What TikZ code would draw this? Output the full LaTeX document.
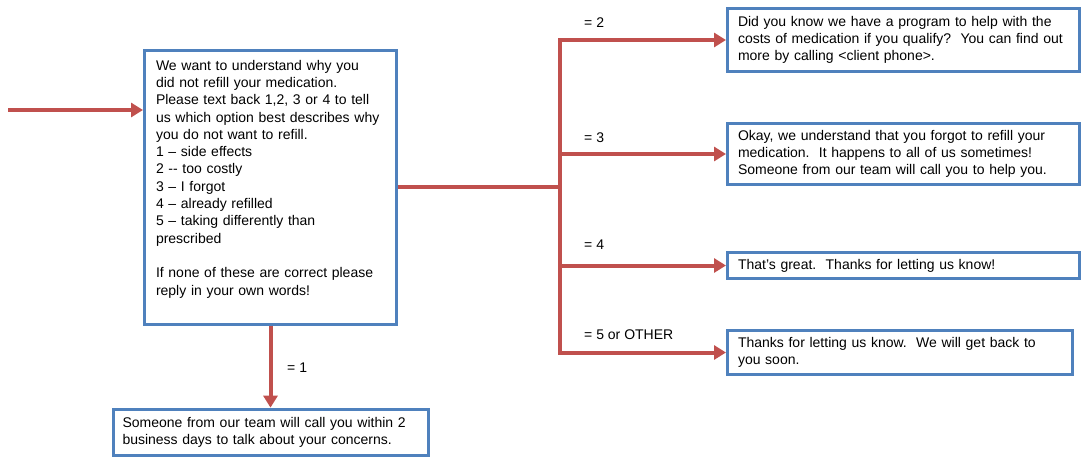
\documentclass[tikz,border=0pt]{standalone}
\usepackage{fontspec}
\setmainfont{Liberation Sans}
\usepackage{tikz}
\usetikzlibrary{arrows.meta, positioning}

\definecolor{boxblue}{HTML}{4F81BD}
\definecolor{flowred}{HTML}{C0504D}

\begin{document}
\begin{tikzpicture}[x=1pt, y=-1pt,
        msg/.style={draw=boxblue, line width=3pt, align=left, inner xsep=10.5pt, inner ysep=4pt,
            font=\fontsize{14}{17.3}\selectfont},
        flow/.style={draw=flowred, line width=4pt, -{Triangle[length=12pt, width=14pt]}},
        link/.style={draw=flowred, line width=4pt},
        choice/.style={anchor=base west, inner sep=0pt, font=\fontsize{14}{17.3}\selectfont}]

    \useasboundingbox (0,0) rectangle (1083,456);

    % the question that is sent
    \node[msg, anchor=north west, text width=229pt, inner xsep=11.5pt, inner ysep=9.5pt] (ask) at (143,49)
        {We want to understand why you\\
         did not refill your medication.\\
         Please text back 1,2, 3 or 4 to tell\\
         us which option best describes why\\
         you do not want to refill.\\
         1 – side effects\\
         2 -\kern0pt- too costly\\
         3 – I forgot\\
         4 – already refilled\\
         5 – taking differently than\\
         prescribed\\[17.3pt]
         If none of these are correct please\\
         reply in your own words!\rule[-19.6pt]{0pt}{19.6pt}};

    \node[msg, below=82pt of ask, text width=296pt, inner xsep=9.5pt, minimum height=46pt] (sideeff)
        {Someone from our team will call you within 2\\
         business days to talk about your concerns.};

    % answers on the right
    \node[msg, anchor=west, text width=331pt, minimum height=63pt] (costly) at (726,40)
        {Did you know we have a program to help with the\\
         costs of medication if you qualify?\ \ You can find out\\
         more by calling <client phone>.};
    \node[msg, anchor=west, text width=331pt, minimum height=61pt] (forgot) at (726,154)
        {Okay, we understand that you forgot to refill your\\
         medication.\ \ It happens to all of us sometimes!\\
         Someone from our team will call you to help you.};
    \node[msg, anchor=west, text width=331pt, minimum height=26pt] (refilled) at (726,265.5)
        {That’s great.\ \ Thanks for letting us know!};
    \node[msg, anchor=west, text width=324pt, minimum height=44pt] (other) at (726,352.5)
        {Thanks for letting us know.\ \ We will get back to\\
         you soon.};

    \coordinate (in) at (8,110);
    \coordinate (trunk) at (560,0);
    \coordinate (fork) at (ask.east -| trunk);

    \draw[flow] (in) -- (in -| ask.west);
    \draw[flow] (ask.south) -- (sideeff.north);
    \draw[link] (ask.east) -- (fork);
    \foreach \b in {costly, forgot, refilled, other}
        \draw[flow] (fork) |- (\b.west);

    \node[choice] (c1) at (287,372) {= 1};
    \node[choice] (c2) at (584,27) {= 2};
    \node[choice] (c3) at (584,142) {= 3};
    \node[choice] (c4) at (584,249) {= 4};
    \node[choice] (c5) at (584,339) {= 5 or OTHER};

\end{tikzpicture}
\end{document}
